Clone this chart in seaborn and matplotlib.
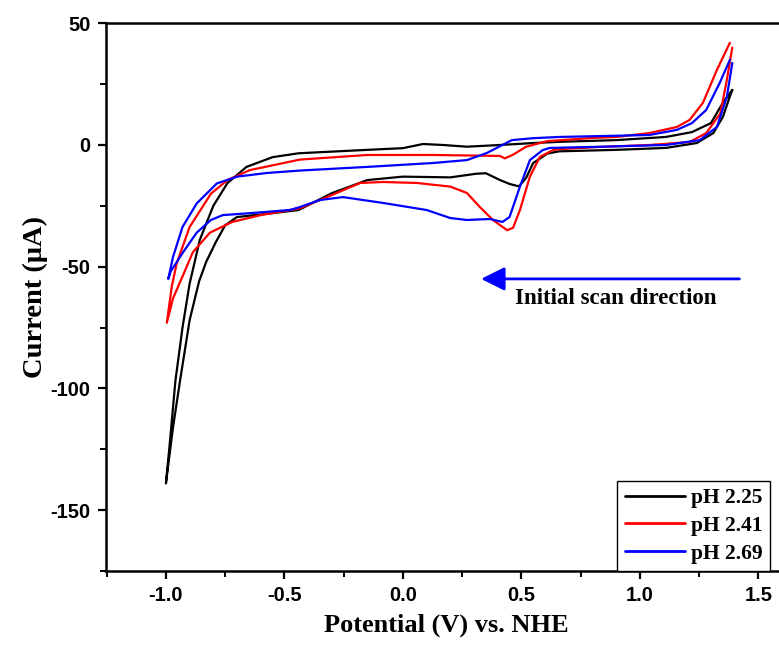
# cyclic voltammograms at three pH values, scan starts at +1.4 V going negative
import numpy as np
import pandas as pd
import seaborn as sns
import matplotlib.pyplot as plt

# pH 2.25 (black): cathodic sweep then anodic return
pot_225 = [1.39, 1.38, 1.35, 1.31, 1.24, 1.11, 0.90, 0.66, 0.61, 0.55, 0.52, 0.49, 0.45, 0.41, 0.35,
           0.31, 0.20, 0.00, -0.15, -0.30, -0.44, -0.55, -0.70, -0.75, -0.79, -0.83, -0.86, -0.90, -0.94,
           -0.97, -1.00,
           -0.985, -0.96, -0.93, -0.90, -0.857, -0.80, -0.74, -0.66, -0.55, -0.44, -0.15, 0.00, 0.085,
           0.17, 0.27, 0.41, 0.55, 0.66, 0.90, 1.11, 1.22, 1.30, 1.35, 1.39]
cur_225 = [22.6, 20.0, 11.5, 4.9, 0.8, -1.2, -2.0, -2.6, -3.5, -7.4, -13.5, -17.0, -16.0, -14.4, -11.6,
           -11.8, -13.3, -13.0, -14.4, -19.8, -26.7, -28.0, -29.6, -33.0, -40.0, -48.0, -56.0, -72.0, -96.6,
           -116.0, -139.0,
           -124.0, -97.0, -75.0, -57.0, -39.0, -25.0, -15.6, -9.0, -5.0, -3.4, -2.0, -1.3, 0.4,
           0.0, -0.7, 0.0, 0.8, 1.3, 2.0, 3.3, 5.3, 9.0, 17.3, 22.6]

# pH 2.41 (red)
pot_241 = [1.39, 1.367, 1.34, 1.28, 1.21, 1.04, 0.83, 0.66, 0.633, 0.578, 0.536, 0.494, 0.465, 0.44,
           0.38, 0.325, 0.27, 0.20, 0.06, -0.084, -0.18, -0.32, -0.435, -0.60, -0.72, -0.814, -0.886,
           -0.93, -0.97, -0.996,
           -0.975, -0.954, -0.90, -0.81, -0.74, -0.645, -0.435, -0.15, 0.127, 0.41, 0.43, 0.465, 0.52,
           0.61, 0.80, 0.90, 1.04, 1.156, 1.21, 1.266, 1.325, 1.38]
cur_241 = [40.0, 26.7, 13.0, 4.9, 1.2, 0.0, -0.8, -1.7, -2.1, -4.9, -13.0, -26.7, -34.0, -35.0,
           -30.8, -25.5, -19.7, -17.1, -15.6, -15.2, -15.6, -21.4, -26.0, -28.8, -31.6, -36.0, -44.0,
           -54.0, -63.0, -73.0,
           -58.0, -48.5, -33.7, -20.0, -14.4, -10.3, -6.0, -4.1, -4.1, -4.5, -5.5, -4.0, -0.7,
           1.6, 2.9, 3.3, 4.9, 7.4, 10.3, 17.3, 30.8, 42.0]

# pH 2.69 (blue)
pot_269 = [1.39, 1.367, 1.325, 1.253, 1.11, 0.80, 0.62, 0.59, 0.536, 0.494, 0.45, 0.42, 0.367, 0.27,
           0.20, 0.10, -0.084, -0.253, -0.35, -0.435, -0.477, -0.645, -0.76, -0.81, -0.87, -0.93, -0.98,
           -0.99,
           -0.97, -0.93, -0.87, -0.785, -0.70, -0.574, -0.435, -0.15, 0.127, 0.27, 0.354, 0.42, 0.46,
           0.55, 0.66, 1.04, 1.156, 1.22, 1.28, 1.337, 1.38]
cur_269 = [33.7, 19.7, 7.4, 2.0, 0.0, -0.8, -1.2, -2.1, -6.2, -17.1, -29.6, -31.6, -30.4, -30.8,
           -30.0, -26.7, -23.8, -21.4, -22.6, -25.5, -26.7, -28.0, -28.8, -30.8, -36.0, -44.4, -52.0,
           -55.0,
           -46.0, -33.7, -24.0, -15.8, -13.0, -11.5, -10.5, -9.0, -7.4, -6.2, -3.3, 0.0, 2.0,
           2.8, 3.3, 4.1, 6.2, 9.0, 14.4, 25.5, 35.0]

labels = ["pH 2.25", "pH 2.41", "pH 2.69"]
colors = ["black", "red", "blue"]

# arrow showing the first sweep direction
arrow_tail = (1.42, -55)
arrow_head = (0.33, -55)
note_xy = (0.90, -63)

df = pd.concat([
    pd.DataFrame({"pot": p, "cur": c, "sample": lab})
    for p, c, lab in zip([pot_225, pot_241, pot_269], [cur_225, cur_241, cur_269], labels)
], ignore_index=True)

sns.set_style("ticks", {"text.color": "black", "axes.labelcolor": "black",
                        "xtick.color": "black", "ytick.color": "black", "axes.edgecolor": "black"})
plt.rcParams["font.family"] = ["Liberation Sans", "DejaVu Sans"]
plt.rcParams["axes.unicode_minus"] = False

fig = plt.figure(figsize=(7.79, 6.46), dpi=100)
ax = fig.add_axes([0.136, 0.116, 0.874, 0.848])

sns.lineplot(data=df, x="pot", y="cur", hue="sample", palette=colors, sort=False,
             estimator=None, linewidth=1.6, ax=ax)

ax.set_xlim(-1.253, 1.62)
ax.set_ylim(-175, 50)
ax.set_xticks([-1.0, -0.5, 0.0, 0.5, 1.0, 1.5])
ax.set_xticks(np.arange(-1.25, 1.6, 0.25), minor=True)
ax.set_yticks([-150, -100, -50, 0, 50])
ax.set_yticks(np.arange(-175, 51, 25), minor=True)
ax.set_xticklabels(["-1.0", "-0.5", "0.0", "0.5", "1.0", "1.5"])
ax.tick_params(which="major", direction="out", length=6, width=1.6, labelsize=14.5, pad=5)
ax.tick_params(which="minor", direction="out", length=4, width=1.4)
for lab in ax.get_xticklabels() + ax.get_yticklabels():
    lab.set_fontweight("bold")
for s in ax.spines.values():
    s.set_linewidth(1.8)

serif = ["Liberation Serif", "DejaVu Serif"]
ax.set_xlabel("Potential (V) vs. NHE", family=serif, fontsize=19, fontweight="bold", labelpad=6)
ax.set_ylabel("Current (\u03bcA)", family=serif, fontsize=20.5, fontweight="bold", labelpad=2)

ax.annotate("", xy=arrow_head, xytext=arrow_tail,
            arrowprops=dict(arrowstyle="-|>,head_length=0.9,head_width=0.45", color="blue",
                            lw=2, mutation_scale=16, shrinkA=0, shrinkB=0))
ax.text(note_xy[0], note_xy[1], "Initial scan direction", family=serif, fontsize=16.5,
        fontweight="bold", ha="center", va="center")

leg = ax.legend(loc="lower left", bbox_to_anchor=(0.7506, 0.0), borderaxespad=0,
                prop={"family": serif, "size": 15.5, "weight": "bold"}, handlelength=2.8,
                handletextpad=0.3, labelspacing=0.35, borderpad=0.35, fancybox=False, framealpha=1)
leg.get_frame().set_edgecolor("black")
leg.get_frame().set_linewidth(1.0)
for line in leg.get_lines():
    line.set_linewidth(2)

plt.savefig("out.png", dpi=100)
